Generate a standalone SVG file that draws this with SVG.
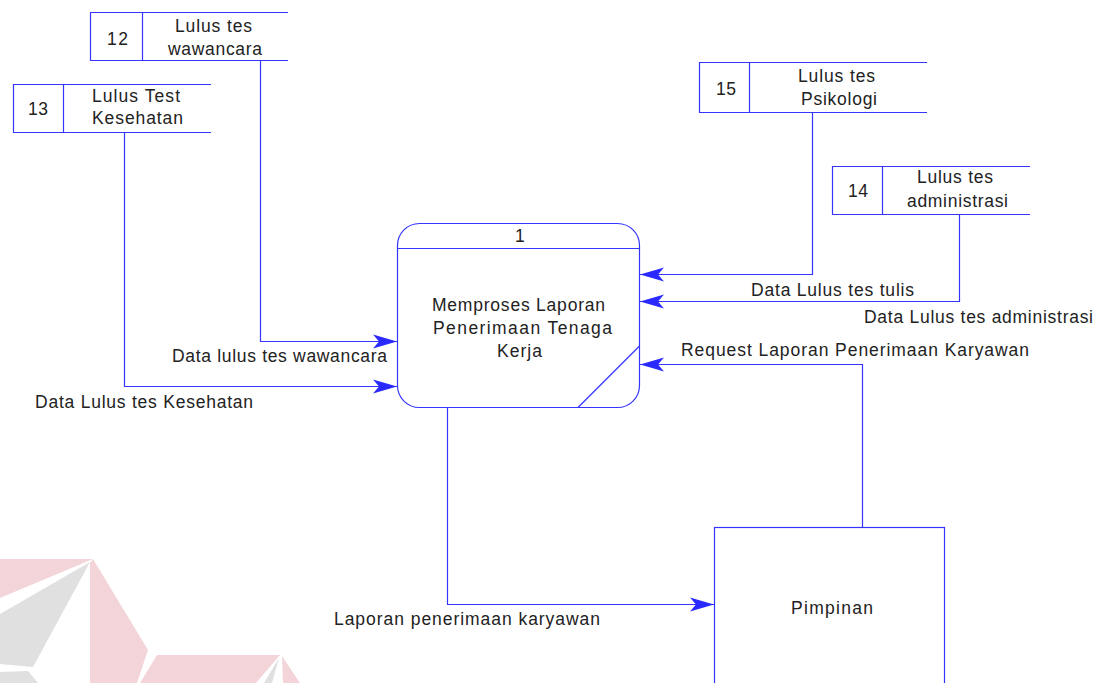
<svg xmlns="http://www.w3.org/2000/svg" width="1103" height="683" viewBox="0 0 1103 683">
<defs>
<style>
.ln{fill:none;stroke:#3535ff;stroke-width:1.2}
.st{fill:none;stroke:#3535ff;stroke-width:1.2}
.tx{font-family:"Liberation Sans",Arial,sans-serif;font-size:17.5px;fill:#222}
.wp{fill:#f3d5d9}
.wg{fill:#e0e0e0}
</style>
<marker id="ah" markerWidth="26" markerHeight="16" refX="25" refY="8" orient="auto" markerUnits="userSpaceOnUse">
<path d="M25,8 L1,1 L7,8 L1,15 Z" fill="#2a2aff"/>
</marker>
</defs>
<rect width="1103" height="683" fill="#fff"/>
<g id="watermark">
<polygon class="wp" points="0,559 93,559 0,598"/>
<polygon class="wg" points="90,562 0,614 0,664 33,667"/>
<polygon class="wg" points="0,672 28,671 38,683 0,683"/>
<polygon class="wp" points="93,559 148,650 137,683 90,683 90,563"/>
<polygon class="wp" points="157,655 280,655 256,683 140,683"/>
<polygon class="wg" points="279,658 264,683 272,683"/>
<polygon class="wp" points="282,656 300,683 283,683"/>
</g>
<g id="connectors">
<polyline class="ln" points="260.5,61 260.5,341.5 397,341.5" marker-end="url(#ah)"/>
<polyline class="ln" points="124.5,132 124.5,386.5 397,386.5" marker-end="url(#ah)"/>
<polyline class="ln" points="812.5,113 812.5,274.5 640,274.5" marker-end="url(#ah)"/>
<polyline class="ln" points="959.5,214 959.5,301.5 640,301.5" marker-end="url(#ah)"/>
<polyline class="ln" points="862.5,527 862.5,364.5 640,364.5" marker-end="url(#ah)"/>
<polyline class="ln" points="447.5,408 447.5,604.5 714,604.5" marker-end="url(#ah)"/>
<text class="tx" x="172" y="362" textLength="215" lengthAdjust="spacing">Data lulus tes wawancara</text>
<text class="tx" x="35" y="408" textLength="218" lengthAdjust="spacing">Data Lulus tes Kesehatan</text>
<text class="tx" x="751" y="296" textLength="163" lengthAdjust="spacing">Data Lulus tes tulis</text>
<text class="tx" x="864" y="323" textLength="229" lengthAdjust="spacing">Data Lulus tes administrasi</text>
<text class="tx" x="681" y="356" textLength="348" lengthAdjust="spacing">Request Laporan Penerimaan Karyawan</text>
<text class="tx" x="334" y="625" textLength="266" lengthAdjust="spacing">Laporan penerimaan karyawan</text>
</g>
<g id="store12">
<polyline class="st" points="288,12.5 90.5,12.5 90.5,60.5 288,60.5"/>
<line class="st" x1="142.5" y1="12.5" x2="142.5" y2="60.5"/>
<text class="tx" x="107" y="45" textLength="21" lengthAdjust="spacing">12</text>
<text class="tx" x="175" y="32" textLength="77" lengthAdjust="spacing">Lulus tes</text>
<text class="tx" x="168" y="55" textLength="94" lengthAdjust="spacing">wawancara</text>
</g>
<g id="store13">
<polyline class="st" points="211,84.5 13.5,84.5 13.5,132.5 211,132.5"/>
<line class="st" x1="63.5" y1="84.5" x2="63.5" y2="132.5"/>
<text class="tx" x="28" y="115" textLength="20" lengthAdjust="spacing">13</text>
<text class="tx" x="92" y="102" textLength="88" lengthAdjust="spacing">Lulus Test</text>
<text class="tx" x="92" y="124" textLength="91" lengthAdjust="spacing">Kesehatan</text>
</g>
<g id="store15">
<polyline class="st" points="927,62.5 699.5,62.5 699.5,112.5 927,112.5"/>
<line class="st" x1="749.5" y1="62.5" x2="749.5" y2="112.5"/>
<text class="tx" x="716" y="95" textLength="20" lengthAdjust="spacing">15</text>
<text class="tx" x="798" y="82" textLength="77" lengthAdjust="spacing">Lulus tes</text>
<text class="tx" x="801" y="105" textLength="76" lengthAdjust="spacing">Psikologi</text>
</g>
<g id="store14">
<polyline class="st" points="1030,166.5 832.5,166.5 832.5,214.5 1030,214.5"/>
<line class="st" x1="882.5" y1="166.5" x2="882.5" y2="214.5"/>
<text class="tx" x="848" y="197" textLength="20" lengthAdjust="spacing">14</text>
<text class="tx" x="917" y="183" textLength="76" lengthAdjust="spacing">Lulus tes</text>
<text class="tx" x="907" y="207" textLength="101" lengthAdjust="spacing">administrasi</text>
</g>
<g id="process1">
<rect class="st" x="397.5" y="223.5" width="242" height="184" rx="22" ry="22"/>
<line class="st" x1="397.5" y1="248.5" x2="639.5" y2="248.5"/>
<line class="st" x1="578" y1="407.5" x2="639.5" y2="346"/>
<text class="tx" x="515" y="242" textLength="8" lengthAdjust="spacing">1</text>
<text class="tx" x="432" y="311" textLength="173" lengthAdjust="spacing">Memproses Laporan</text>
<text class="tx" x="433" y="334" textLength="179" lengthAdjust="spacing">Penerimaan Tenaga</text>
<text class="tx" x="497" y="357" textLength="45" lengthAdjust="spacing">Kerja</text>
</g>
<g id="pimpinan">
<rect class="st" x="714.5" y="527.5" width="230" height="170"/>
<text class="tx" x="791" y="614" textLength="82" lengthAdjust="spacing">Pimpinan</text>
</g>
</svg>
